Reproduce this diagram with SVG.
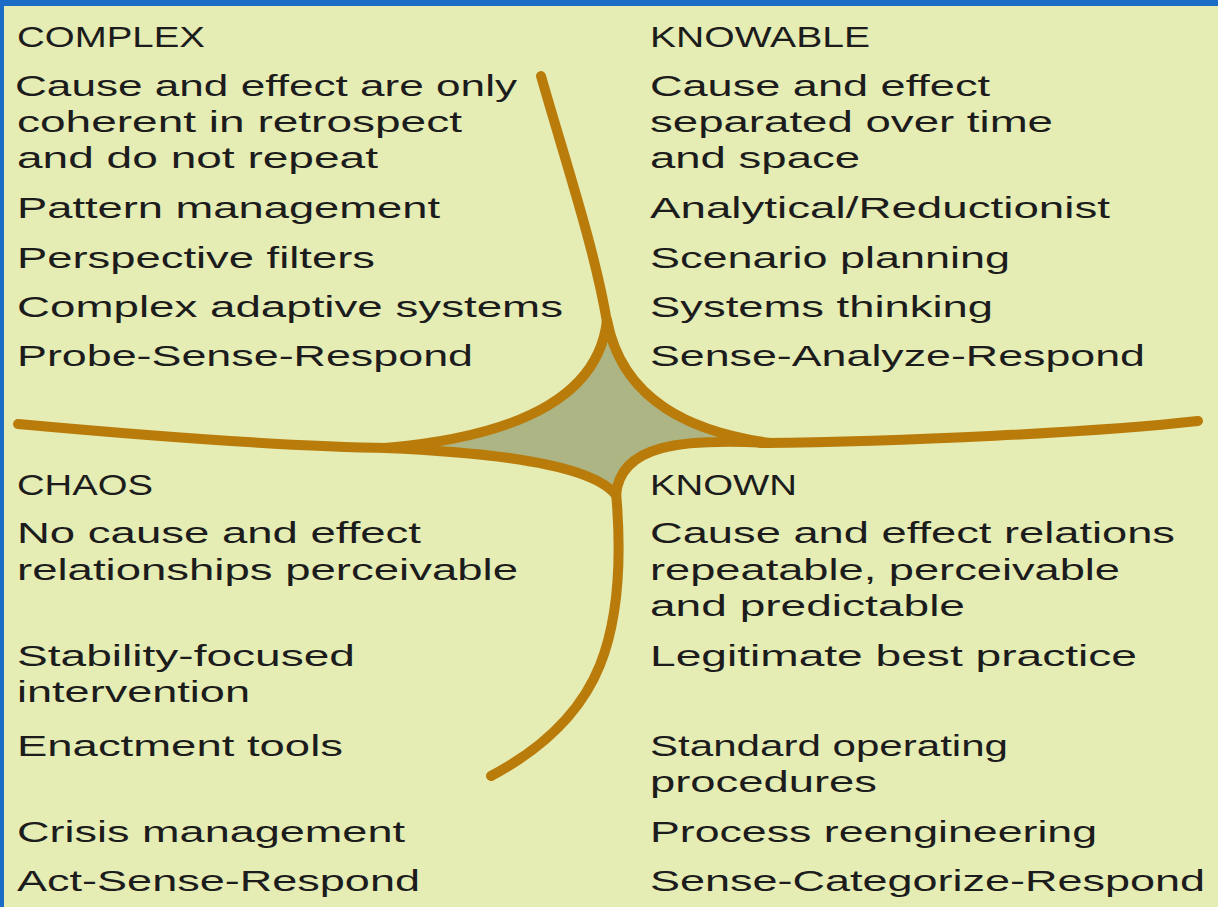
<svg xmlns="http://www.w3.org/2000/svg" width="1218" height="907" viewBox="0 0 1218 907">
<style>
text{font-family:"Liberation Sans",Arial,sans-serif;font-size:29px;fill:#1c1c1c;}
.ln{fill:none;stroke:#b97c0b;stroke-width:10;stroke-linecap:round;stroke-linejoin:round;}
</style>
<rect x="0" y="0" width="1218" height="907" fill="#e5ecb4"/>
<rect x="0" y="0" width="1218" height="6" fill="#1a6cc6"/>
<rect x="0" y="0" width="4" height="907" fill="#1a6cc6"/>
<g id="connectors">
<path class="ln" d="M541,76 C565,160 595,250 607,322"/>
<path class="ln" d="M760,443 C900,442 1100,432 1198,421"/>
<path class="ln" d="M18,424 C150,436 300,447 390,448"/>
<path class="ln" d="M616,492 C622,560 618,620 600,665 C580,715 540,750 491,776"/>
<path d="M607,320 C622,400 690,432 770,443 C680,438 620,445 616,495 C590,462 480,452 385,448 C500,438 598,405 607,320 Z" fill="#adb584" stroke="#b97c0b" stroke-width="10" stroke-linejoin="round"/>
</g>
<g id="complex">
<text x="17" y="47" textLength="188" lengthAdjust="spacingAndGlyphs">COMPLEX</text>
<text x="15" y="96" textLength="502" lengthAdjust="spacingAndGlyphs">Cause and effect are only</text>
<text x="17" y="132" textLength="445" lengthAdjust="spacingAndGlyphs">coherent in retrospect</text>
<text x="17" y="168" textLength="361" lengthAdjust="spacingAndGlyphs">and do not repeat</text>
<text x="17" y="218" textLength="423" lengthAdjust="spacingAndGlyphs">Pattern management</text>
<text x="17" y="268" textLength="358" lengthAdjust="spacingAndGlyphs">Perspective filters</text>
<text x="17" y="317" textLength="546" lengthAdjust="spacingAndGlyphs">Complex adaptive systems</text>
<text x="17" y="366" textLength="456" lengthAdjust="spacingAndGlyphs">Probe-Sense-Respond</text>
</g>
<g id="knowable">
<text x="650" y="47" textLength="220" lengthAdjust="spacingAndGlyphs">KNOWABLE</text>
<text x="650" y="96" textLength="340" lengthAdjust="spacingAndGlyphs">Cause and effect</text>
<text x="650" y="132" textLength="403" lengthAdjust="spacingAndGlyphs">separated over time</text>
<text x="650" y="168" textLength="210" lengthAdjust="spacingAndGlyphs">and space</text>
<text x="650" y="218" textLength="460" lengthAdjust="spacingAndGlyphs">Analytical/Reductionist</text>
<text x="650" y="268" textLength="360" lengthAdjust="spacingAndGlyphs">Scenario planning</text>
<text x="650" y="317" textLength="343" lengthAdjust="spacingAndGlyphs">Systems thinking</text>
<text x="650" y="366" textLength="495" lengthAdjust="spacingAndGlyphs">Sense-Analyze-Respond</text>
</g>
<g id="chaos">
<text x="17" y="495" textLength="136" lengthAdjust="spacingAndGlyphs">CHAOS</text>
<text x="17" y="543" textLength="404" lengthAdjust="spacingAndGlyphs">No cause and effect</text>
<text x="17" y="580" textLength="501" lengthAdjust="spacingAndGlyphs">relationships perceivable</text>
<text x="17" y="666" textLength="338" lengthAdjust="spacingAndGlyphs">Stability-focused</text>
<text x="17" y="702" textLength="233" lengthAdjust="spacingAndGlyphs">intervention</text>
<text x="17" y="756" textLength="326" lengthAdjust="spacingAndGlyphs">Enactment tools</text>
<text x="17" y="842" textLength="388" lengthAdjust="spacingAndGlyphs">Crisis management</text>
<text x="17" y="891" textLength="403" lengthAdjust="spacingAndGlyphs">Act-Sense-Respond</text>
</g>
<g id="known">
<text x="650" y="495" textLength="147" lengthAdjust="spacingAndGlyphs">KNOWN</text>
<text x="650" y="543" textLength="525" lengthAdjust="spacingAndGlyphs">Cause and effect relations</text>
<text x="650" y="580" textLength="470" lengthAdjust="spacingAndGlyphs">repeatable, perceivable</text>
<text x="650" y="616" textLength="315" lengthAdjust="spacingAndGlyphs">and predictable</text>
<text x="650" y="666" textLength="487" lengthAdjust="spacingAndGlyphs">Legitimate best practice</text>
<text x="650" y="756" textLength="358" lengthAdjust="spacingAndGlyphs">Standard operating</text>
<text x="650" y="792" textLength="227" lengthAdjust="spacingAndGlyphs">procedures</text>
<text x="650" y="842" textLength="447" lengthAdjust="spacingAndGlyphs">Process reengineering</text>
<text x="650" y="891" textLength="555" lengthAdjust="spacingAndGlyphs">Sense-Categorize-Respond</text>
</g>
</svg>
